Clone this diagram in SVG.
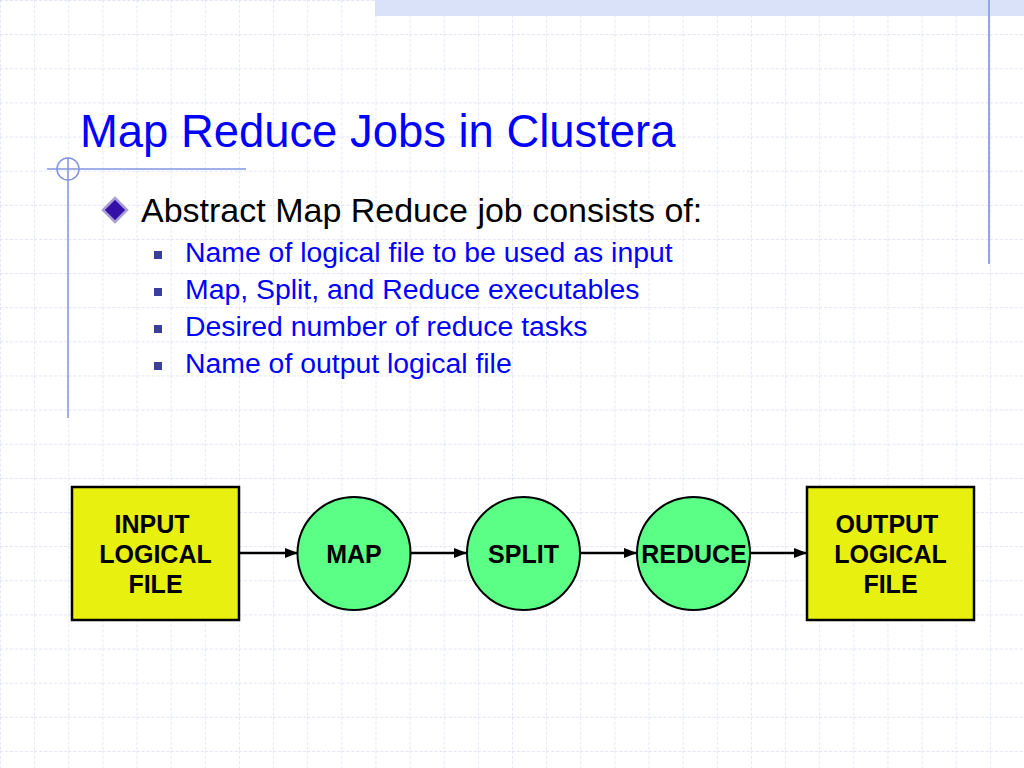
<svg xmlns="http://www.w3.org/2000/svg" width="1024" height="768" viewBox="0 0 1024 768">
<defs>
<pattern id="grid" patternUnits="userSpaceOnUse" width="34.133" height="34.133">
<line x1="0" y1="0" x2="34.133" y2="0" stroke="#d6daf2" stroke-width="1.3" stroke-dasharray="3 2"/>
<line x1="0" y1="0" x2="0" y2="34.133" stroke="#d6daf2" stroke-width="1.3" stroke-dasharray="3 2"/>
</pattern>
<marker id="arr" markerWidth="13" markerHeight="12" refX="12" refY="6" orient="auto" markerUnits="userSpaceOnUse">
<path d="M0,1 L13,6 L0,11 Z" fill="#000"/>
</marker>
<style>
.title{font-family:"Liberation Sans",Arial,sans-serif;font-size:45.4px;fill:#0000ff}
.l1{font-family:"Liberation Sans",Arial,sans-serif;font-size:34px;fill:#000}
.l2{font-family:"Liberation Sans",Arial,sans-serif;font-size:28.4px;fill:#0000ff}
.nt{font-family:"Liberation Sans",Arial,sans-serif;font-size:25px;font-weight:bold;fill:#000;text-anchor:middle}
.box{fill:#e8f010;stroke:#000;stroke-width:2.5}
.circ{fill:#5cff86;stroke:#000;stroke-width:2}
.conn{stroke:#000;stroke-width:2.5;fill:none;marker-end:url(#arr)}
.deco{stroke:#8494e0;stroke-width:1.5;fill:none}
</style>
</defs>
<rect width="1024" height="768" fill="#fff"/>
<rect width="1024" height="768" fill="url(#grid)"/>
<rect x="375" y="0" width="649" height="16" fill="#d9e2f8"/>
<line x1="989" y1="0" x2="989" y2="264" stroke="#95a5e6" stroke-width="2"/>
<g id="decoration">
<line class="deco" x1="47" y1="169" x2="246" y2="169"/>
<line class="deco" x1="68" y1="158" x2="68" y2="418"/>
<circle class="deco" cx="68" cy="169" r="11"/>
</g>
<text class="title" x="80" y="147">Map Reduce Jobs in Clustera</text>
<polygon points="115,198 127,210 115,222 103,210" fill="#3510a8" stroke="#a99dd6" stroke-width="2.5"/>
<text class="l1" x="141" y="222">Abstract Map Reduce job consists of:</text>
<g fill="#3d3d9c">
<rect x="154" y="251" width="8" height="8"/>
<rect x="154" y="288" width="8" height="8"/>
<rect x="154" y="325" width="8" height="8"/>
<rect x="154" y="362" width="8" height="8"/>
</g>
<text class="l2" x="185" y="262">Name of logical file to be used as input</text>
<text class="l2" x="185" y="299">Map, Split, and Reduce executables</text>
<text class="l2" x="185" y="336">Desired number of reduce tasks</text>
<text class="l2" x="185" y="373">Name of output logical file</text>
<g id="connectors">
<line class="conn" x1="239" y1="553" x2="297" y2="553"/>
<line class="conn" x1="411" y1="553" x2="466" y2="553"/>
<line class="conn" x1="580" y1="553" x2="636" y2="553"/>
<line class="conn" x1="750" y1="553" x2="806" y2="553"/>
</g>
<g id="input">
<rect class="box" x="72" y="487" width="167" height="133"/>
<text class="nt" x="152" y="533">INPUT</text>
<text class="nt" x="155.5" y="563">LOGICAL</text>
<text class="nt" x="155.5" y="593">FILE</text>
</g>
<g id="map">
<circle class="circ" cx="354" cy="553.5" r="56.5"/>
<text class="nt" x="354" y="563">MAP</text>
</g>
<g id="split">
<circle class="circ" cx="523.5" cy="553.5" r="56.5"/>
<text class="nt" x="523.5" y="563">SPLIT</text>
</g>
<g id="reduce">
<circle class="circ" cx="693.5" cy="553.5" r="56.5"/>
<text class="nt" x="694" y="563">REDUCE</text>
</g>
<g id="output">
<rect class="box" x="807" y="487" width="167" height="133"/>
<text class="nt" x="887" y="533">OUTPUT</text>
<text class="nt" x="890.5" y="563">LOGICAL</text>
<text class="nt" x="890.5" y="593">FILE</text>
</g>
</svg>
